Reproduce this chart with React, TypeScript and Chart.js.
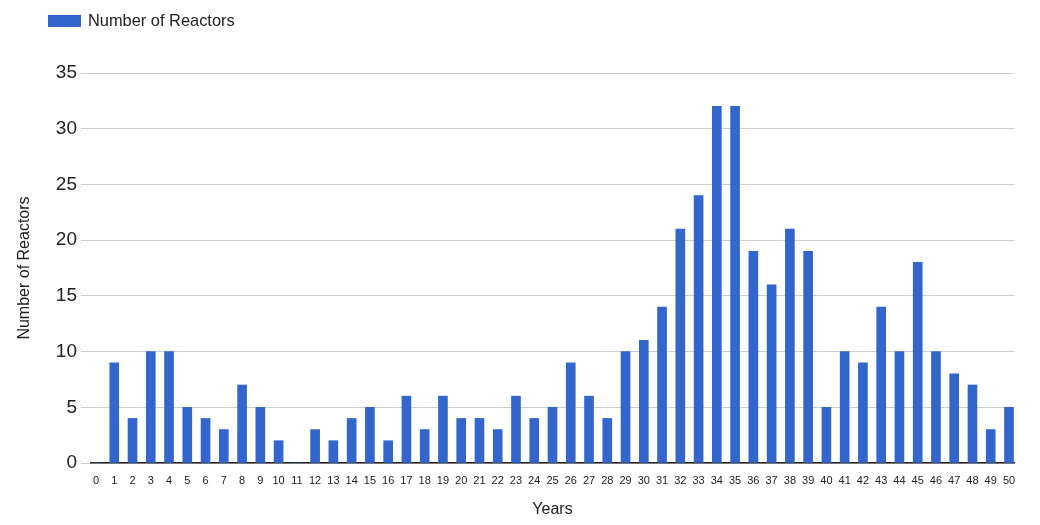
import React, { useEffect, useRef } from "react";
import { Chart, registerables } from "chart.js";

Chart.register(...registerables);

const years: number[] = [
  0, 1, 2, 3, 4, 5, 6, 7, 8, 9, 10, 11, 12, 13, 14, 15, 16, 17, 18, 19, 20,
  21, 22, 23, 24, 25, 26, 27, 28, 29, 30, 31, 32, 33, 34, 35, 36, 37, 38, 39,
  40, 41, 42, 43, 44, 45, 46, 47, 48, 49, 50,
];
const reactors: number[] = [
  0, 9, 4, 10, 10, 5, 4, 3, 7, 5, 2, 0, 3, 2, 4, 5, 2, 6, 3, 6, 4,
  4, 3, 6, 4, 5, 9, 6, 4, 10, 11, 14, 21, 24, 32, 32, 19, 16, 21, 19,
  5, 10, 9, 14, 10, 18, 10, 8, 7, 3, 5,
];
const yTicks: number[] = [0, 5, 10, 15, 20, 25, 30, 35];
const seriesName = "Number of Reactors";
const xTitle = "Years";
const yTitle = "Number of Reactors";

const FONT = "'Liberation Sans', Arial, sans-serif";
const BAR = "#3366cc";

const legendPlugin = {
  id: "customLegend",
  afterDraw(chart: any) {
    const ctx = chart.ctx;
    ctx.save();
    ctx.fillStyle = BAR;
    ctx.fillRect(48, 15, 33, 12);
    ctx.fillStyle = "#222";
    ctx.font = `16.4px ${FONT}`;
    ctx.textBaseline = "middle";
    ctx.textAlign = "left";
    ctx.fillText(seriesName, 88, 21.5);
    ctx.restore();
  },
};

export default function App() {
  const ref = useRef<HTMLCanvasElement | null>(null);
  useEffect(() => {
    if (!ref.current) return;
    const chart = new Chart(ref.current, {
      type: "bar",
      data: {
        datasets: [
          {
            label: seriesName,
            data: years.map((y, i) => ({ x: y, y: reactors[i] })),
            backgroundColor: BAR,
            barThickness: 9,
          },
        ],
      },
      options: {
        animation: false,
        responsive: false,
        maintainAspectRatio: false,
        layout: { padding: { top: 73, right: 26, left: 0, bottom: 0 } },
        plugins: { legend: { display: false }, tooltip: { enabled: false } },
        scales: {
          x: {
            type: "linear",
            offset: false,
            min: -0.274,
            max: 50.274,
            afterBuildTicks: (scale: any) => {
              scale.ticks = years.map((v) => ({ value: v }));
            },
            afterFit: (scale: any) => {
              scale.height = 62;
            },
            grid: { display: false },
            border: { display: true, color: "#222", width: 1.5 },
            ticks: {
              autoSkip: false,
              maxRotation: 0,
              padding: 3,
              color: "#222",
              font: { family: FONT, size: 11 },
              callback: (v: any) => String(v),
            },
            title: {
              display: true,
              text: xTitle,
              color: "#222",
              font: { family: FONT, size: 16 },
              padding: { top: 0, bottom: 6 },
            },
          },
          y: {
            min: 0,
            max: 35,
            afterBuildTicks: (scale: any) => {
              scale.ticks = yTicks.map((v) => ({ value: v }));
            },
            afterFit: (scale: any) => {
              scale.width = 91;
            },
            border: { display: false },
            grid: {
              color: "#cccccc",
              tickColor: "#cccccc",
              tickLength: 10,
              drawTicks: true,
            },
            ticks: {
              padding: 4,
              color: "#222",
              font: { family: FONT, size: 19 },
            },
            title: {
              display: true,
              text: yTitle,
              color: "#222",
              font: { family: FONT, size: 16 },
              padding: { top: 15, bottom: 0 },
            },
          },
        },
      },
      plugins: [legendPlugin],
    } as any);
    return () => chart.destroy();
  }, []);
  return (
    <div style={{ position: "absolute", left: 0, top: 0, width: 1040, height: 525, background: "#fff" }}>
      <canvas ref={ref} width={1040} height={525} style={{ display: "block" }} />
    </div>
  );
}
